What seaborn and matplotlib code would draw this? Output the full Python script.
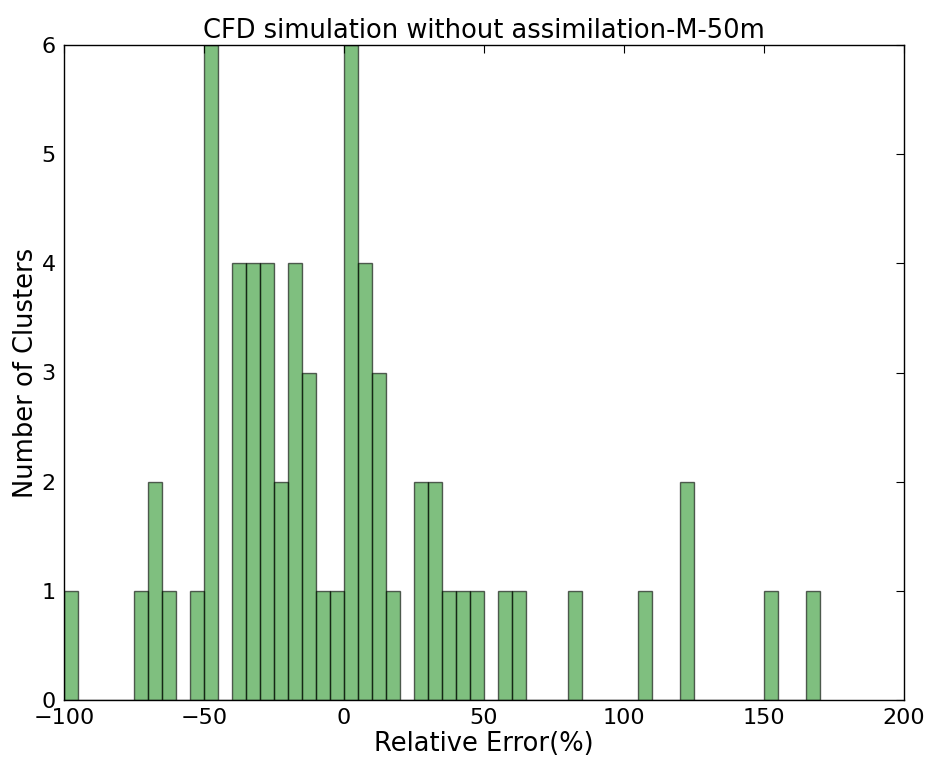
import numpy as np
import pandas as pd
import matplotlib
matplotlib.use("Agg")
import matplotlib.pyplot as plt
import seaborn as sns

# left edge of each non-empty 5% bin and the number of clusters in it
bin_left = [-100, -75, -70, -65, -55, -50, -40, -35, -30, -25, -20, -15,
            -10, -5, 0, 5, 10, 15, 25, 30, 35, 40, 45, 55, 60, 80, 105,
            120, 150, 165]
clusters = [1, 1, 2, 1, 1, 6, 4, 4, 4, 2, 4, 3,
            1, 1, 6, 4, 3, 1, 2, 2, 1, 1, 1, 1, 1, 1, 1,
            2, 1, 1]
bin_width = 5
x_ticks = [-100, -50, 0, 50, 100, 150, 200]
y_ticks = [0, 1, 2, 3, 4, 5, 6]

df = pd.DataFrame({"error": np.array(bin_left) + bin_width / 2,
                   "count": clusters})
edges = list(range(-100, 170 + bin_width, bin_width))

sns.set_style("white")
plt.rcParams['font.family'] = ['DejaVu Sans']
plt.rcParams['text.color'] = 'black'
plt.rcParams['axes.labelcolor'] = 'black'

fig = plt.figure(figsize=(9.28, 7.58), dpi=100)
ax = fig.add_axes([64 / 928, 58 / 758, 840 / 928, 655 / 758])

sns.histplot(data=df, x="error", weights="count", bins=edges, ax=ax,
             color="green", alpha=0.5, edgecolor=(0, 0, 0, 0.6), linewidth=1.0)

ax.set_xlim(-100, 200)
ax.set_ylim(0, 6)
ax.set_xticks(x_ticks)
ax.set_yticks(y_ticks)
ax.tick_params(direction="in", length=6, width=0.8, top=True, right=True,
               labelsize=16, pad=6, colors="black")
for s in ax.spines.values():
    s.set_visible(True)
    s.set_color("black")
    s.set_linewidth(1.0)

ax.set_title("CFD simulation without assimilation-M-50m", fontsize=18.5,
             pad=5, color="black")
ax.set_xlabel("Relative Error(%)", fontsize=18.5, labelpad=2)
ax.set_ylabel("Number of Clusters", fontsize=18.5, labelpad=2)

fig.savefig("out.png", dpi=100)
